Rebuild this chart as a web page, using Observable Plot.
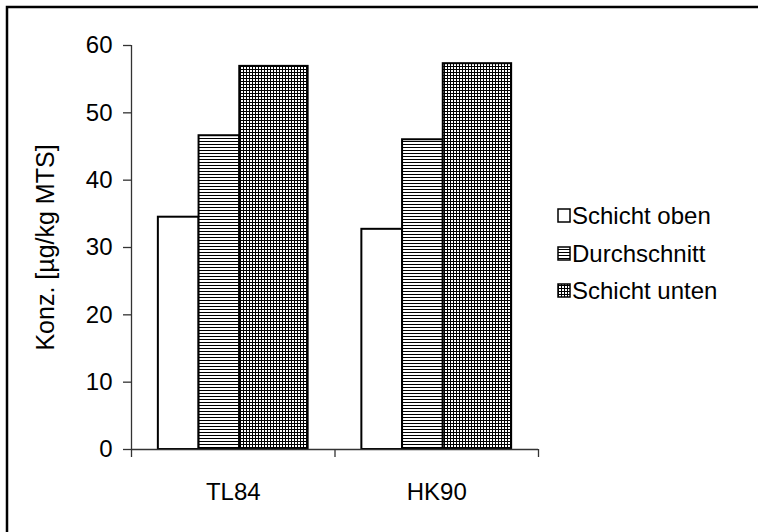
<!DOCTYPE html>
<html>
<head>
<meta charset="utf-8">
<script src="https://cdn.jsdelivr.net/npm/d3@7"></script>
<script src="https://cdn.jsdelivr.net/npm/@observablehq/plot@0.6"></script>
<style>
  html, body { margin: 0; padding: 0; background: #fff; }
  #chart { width: 758px; height: 532px; overflow: hidden; }
  svg { font-family: "Liberation Sans", Arial, sans-serif; }
</style>
</head>
<body>
<div id="chart"></div>
<script>
// ---- data ----
const groups = ["TL84", "HK90"];
const series = ["Schicht oben", "Durchschnitt", "Schicht unten"];
const valuesTL84 = [34.5, 46.6, 56.9];
const valuesHK90 = [32.7, 46.0, 57.3];
const yTicks = [0, 10, 20, 30, 40, 50, 60];
const yLabel = "Konz. [µg/kg MTS]";

// ---- layout constants (not data) ----
const slotEdges = [0.132, 0.332, 0.532, 0.868]; // bar edges within a category slot
const fills = ["#ffffff", "url(#pHoriz)", "url(#pGrid)"];
const FS = 24;
const FS_LABEL = 25;

const groupValues = [valuesTL84, valuesHK90];
const rows = [];
groups.forEach((g, gi) => {
  series.forEach((s, si) => {
    rows.push({group: g, gi, series: s, si, value: groupValues[gi][si]});
  });
});

const barMarks = series.map((s, si) =>
  Plot.rectY(rows.filter(r => r.si === si), {
    x1: r => r.gi + slotEdges[si],
    x2: r => r.gi + slotEdges[si + 1],
    y1: 0,
    y2: "value",
    fill: fills[si],
    stroke: "#000",
    strokeWidth: 2
  })
);

const chart = Plot.plot({
  width: 758,
  height: 532,
  marginLeft: 131,
  marginRight: 220,
  marginTop: 45,
  marginBottom: 83,
  style: {fontFamily: "Liberation Sans, Arial, sans-serif", fontSize: FS + "px", background: "transparent", color: "#000"},
  x: {domain: [0, 2], axis: null},
  y: {domain: [0, 60], axis: null},
  marks: [
    ...barMarks,
    Plot.ruleX([0], {stroke: "#333", strokeWidth: 1.3}),
    Plot.ruleY([0], {stroke: "#333", strokeWidth: 1.3}),
    Plot.axisY({ticks: yTicks, tickSize: 8, tickPadding: 11, stroke: "#333", strokeWidth: 1.3, label: null, fontSize: FS, fill: "#000"}),
    Plot.axisX({ticks: [0, 1, 2], tickSize: 8, tickFormat: () => "", stroke: "#333", strokeWidth: 1.3, label: null}),
    Plot.axisX({ticks: [0.5, 1.5], tickSize: 0, tickPadding: 33, tickFormat: d => groups[Math.floor(d)], label: null, fontSize: FS, fill: "#000"}),
    Plot.text([yLabel], {frameAnchor: "left", rotate: -90, dx: -86, textAnchor: "middle", fontSize: FS_LABEL, fill: "#000"})
  ]
});

const svg = d3.select(chart);
const defs = svg.insert("defs", ":first-child");
const ph = defs.append("pattern").attr("id", "pHoriz").attr("patternUnits", "userSpaceOnUse")
  .attr("width", 3).attr("height", 3);
ph.append("rect").attr("width", 3).attr("height", 3).attr("fill", "#fff");
ph.append("rect").attr("x", 0).attr("y", 0).attr("width", 3).attr("height", 1).attr("fill", "#000");
const pg = defs.append("pattern").attr("id", "pGrid").attr("patternUnits", "userSpaceOnUse")
  .attr("width", 3).attr("height", 3);
pg.append("rect").attr("width", 3).attr("height", 3).attr("fill", "#fff");
pg.append("rect").attr("x", 0).attr("y", 0).attr("width", 3).attr("height", 1).attr("fill", "#000");
pg.append("rect").attr("x", 0).attr("y", 0).attr("width", 1).attr("height", 3).attr("fill", "#000");

// outer frame
svg.append("rect").attr("x", 7).attr("y", 7).attr("width", 760).attr("height", 540)
  .attr("fill", "none").attr("stroke", "#000").attr("stroke-width", 2.5);

// legend
const legendY = [216, 254, 291];
const lg = svg.append("g").attr("font-family", "Liberation Sans, Arial, sans-serif")
  .attr("font-size", FS).attr("text-anchor", "start");
series.forEach((s, si) => {
  lg.append("rect").attr("x", 558).attr("y", legendY[si] - 7).attr("width", 12).attr("height", 13)
    .attr("fill", fills[si]).attr("stroke", "#000").attr("stroke-width", 1.5);
  lg.append("text").attr("x", 572).attr("y", legendY[si]).attr("dy", "0.35em")
    .attr("text-anchor", "start").attr("fill", "#000").text(s);
});

document.getElementById("chart").appendChild(chart);
</script>
</body>
</html>
